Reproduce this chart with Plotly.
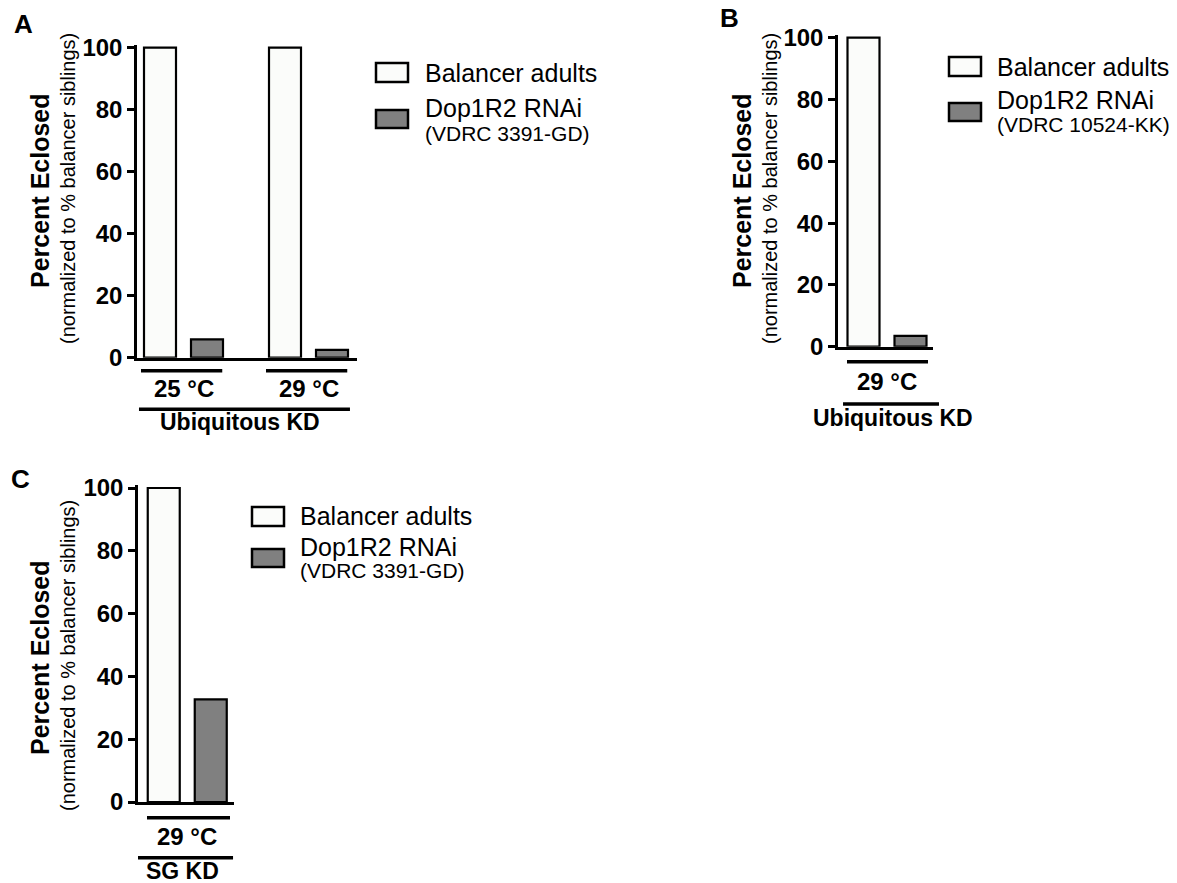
import plotly.graph_objects as go

# ---------------- data ----------------
groups_A = ["25 °C", "29 °C"]
balancer_A = [100, 100]
rnai_A = [5.9, 2.5]

groups_B = ["29 °C"]
balancer_B = [100]
rnai_B = [3.5]

groups_C = ["29 °C"]
balancer_C = [100]
rnai_C = [32.7]

y_ticks = [0, 20, 40, 60, 80, 100]
series_names = ["Balancer adults", "Dop1R2 RNAi"]
lines_A = ["(VDRC 3391-GD)"]
lines_B = ["(VDRC 10524-KK)"]
lines_C = ["(VDRC 3391-GD)"]
span_A = "Ubiquitous KD"
span_B = "Ubiquitous KD"
span_C = "SG KD"
letters = ["A", "B", "C"]
y_title = "Percent Eclosed"
y_subtitle = "(normalized to % balancer siblings)"

# ---------------- layout helpers ----------------
W, H = 1177, 883
FONT = "Arial, Liberation Sans, sans-serif"
WHITE = "#fbfcfa"
GRAY = "#808080"


def px(p):
    return p / W


def py(p):
    return 1 - p / H


TOP = 101.0


def ydom(p0, p100):
    per = (p0 - p100) / 100.0
    ptop = p0 - TOP * per
    return [py(p0), py(ptop)]


PPU = 125.0  # pixels per category unit
BW = 32 / PPU
SEP = 23.5 / PPU

panels = [
    dict(name="", groups=groups_A, bal=balancer_A, rnai=rnai_A, sub=lines_A[0], span=span_A,
         xdom=[px(137), px(357)], xr=[-0.372, 1.388], ydom=ydom(357.7, 47.7),
         gl=(-0.34, 0.31), gly=370.7, glab_y=388, sp=(0.009, 0.968), spy=409.3, splab=(0.466, 421.7),
         leg=dict(bx=376, b1=63, b2=110, tx=423, t1=73, t2=108, t3=133),
         title_y=191, tx1=40, tx2=68, letter=(23, 24)),
    dict(name="2", groups=groups_B, bal=balancer_B, rnai=rnai_B, sub=lines_B[0], span=span_B,
         xdom=[px(838), px(933)], xr=[-0.392, 0.368], ydom=ydom(346.7, 37.7),
         gl=(-0.32, 0.328), gly=361.7, glab_y=382, sp=(0.053, 1.063), spy=404, splab=(0.579, 418),
         leg=dict(bx=949, b1=57, b2=103, tx=995, t1=67, t2=100, t3=124),
         title_y=191, tx1=742, tx2=770, letter=(729, 18)),
    dict(name="3", groups=groups_C, bal=balancer_C, rnai=rnai_C, sub=lines_C[0], span=span_C,
         xdom=[px(138), px(234)], xr=[-0.394, 0.374], ydom=ydom(802, 488),
         gl=(-0.322, 0.342), gly=817.7, glab_y=836.7, sp=(0.0, 0.99), spy=857.7, splab=(0.464, 870.5),
         leg=dict(bx=252, b1=507, b2=549, tx=298, t1=516, t2=547, t3=570),
         title_y=658, tx1=40, tx2=68, letter=(20, 479)),
]

fig = go.Figure()
shapes = []
annotations = []
layout_axes = {}

for i, p in enumerate(panels):
    n = p["name"]
    xa = "x" + n
    ya = "y" + n
    fig.add_trace(go.Bar(
        x=p["groups"], y=p["bal"], xaxis=xa, yaxis=ya, name=series_names[0],
        width=BW, offset=-SEP - BW / 2,
        marker=dict(color=WHITE, line=dict(color="black", width=2.2)),
        showlegend=False, hoverinfo="skip"))
    fig.add_trace(go.Bar(
        x=p["groups"], y=p["rnai"], xaxis=xa, yaxis=ya, name=series_names[1],
        width=BW, offset=SEP - BW / 2,
        marker=dict(color=GRAY, line=dict(color="black", width=2.2)),
        showlegend=False, hoverinfo="skip"))

    layout_axes["xaxis" + n] = dict(
        domain=p["xdom"], anchor=ya, type="category", range=p["xr"], automargin=False,
        showline=True, linecolor="black", linewidth=2.5,
        showticklabels=False, ticks="", showgrid=False, zeroline=False, fixedrange=True)
    layout_axes["yaxis" + n] = dict(
        domain=p["ydom"], anchor=xa, range=[0, TOP], automargin=False,
        showline=True, linecolor="black", linewidth=2.5,
        tickvals=y_ticks, ticks="outside", ticklen=7, tickwidth=2.5, tickcolor="black",
        tickfont=dict(family=FONT, size=24, color="black", weight="bold"),
        showgrid=False, zeroline=False, fixedrange=True)

    # group underlines and labels
    for gi, g in enumerate(p["groups"]):
        shapes.append(dict(type="line", xref=xa, yref="paper",
                           x0=gi + p["gl"][0], x1=gi + p["gl"][1],
                           y0=py(p["gly"]), y1=py(p["gly"]),
                           line=dict(color="black", width=3.5)))
        annotations.append(dict(text=g, xref=xa, yref="paper", x=gi, y=py(p["glab_y"]),
                                xanchor="center", yanchor="middle", showarrow=False,
                                font=dict(family=FONT, size=24, color="black", weight="bold")))
    # spanning line and label
    shapes.append(dict(type="line", xref=xa + " domain", yref="paper",
                       x0=p["sp"][0], x1=p["sp"][1], y0=py(p["spy"]), y1=py(p["spy"]),
                       line=dict(color="black", width=3.5)))
    annotations.append(dict(text=p["span"], xref=xa + " domain", yref="paper",
                            x=p["splab"][0], y=py(p["splab"][1]),
                            xanchor="center", yanchor="middle", showarrow=False,
                            font=dict(family=FONT, size=23, color="black", weight="bold")))

    # y titles
    annotations.append(dict(text=y_title, xref="paper", yref="paper",
                            x=px(p["tx1"]), y=py(p["title_y"]), textangle=-90,
                            xanchor="center", yanchor="middle", showarrow=False,
                            font=dict(family=FONT, size=25, color="black", weight="bold")))
    annotations.append(dict(text=y_subtitle, xref="paper", yref="paper",
                            x=px(p["tx2"]), y=py(p["title_y"] - 2), textangle=-90,
                            xanchor="center", yanchor="middle", showarrow=False,
                            font=dict(family=FONT, size=20, color="black")))

    # panel letter
    annotations.append(dict(text=letters[i], xref="paper", yref="paper",
                            x=px(p["letter"][0]), y=py(p["letter"][1]),
                            xanchor="center", yanchor="middle", showarrow=False,
                            font=dict(family=FONT, size=26, color="black", weight="bold")))

    # manual legend
    L = p["leg"]
    shapes.append(dict(type="rect", xref="paper", yref="paper",
                       x0=px(L["bx"]), x1=px(L["bx"] + 32), y0=py(L["b1"]), y1=py(L["b1"] + 19),
                       fillcolor=WHITE, line=dict(color="black", width=2.5)))
    shapes.append(dict(type="rect", xref="paper", yref="paper",
                       x0=px(L["bx"]), x1=px(L["bx"] + 32), y0=py(L["b2"]), y1=py(L["b2"] + 18),
                       fillcolor=GRAY, line=dict(color="black", width=2.5)))
    annotations.append(dict(text=series_names[0], xref="paper", yref="paper",
                            x=px(L["tx"]), y=py(L["t1"]), xanchor="left", yanchor="middle",
                            showarrow=False, font=dict(family=FONT, size=25, color="black")))
    annotations.append(dict(text=series_names[1], xref="paper", yref="paper",
                            x=px(L["tx"]), y=py(L["t2"]), xanchor="left", yanchor="middle",
                            showarrow=False, font=dict(family=FONT, size=25, color="black")))
    annotations.append(dict(text=p["sub"], xref="paper", yref="paper",
                            x=px(L["tx"]), y=py(L["t3"]), xanchor="left", yanchor="middle",
                            showarrow=False, font=dict(family=FONT, size=21, color="black")))

fig.update_layout(
    template="none",
    width=W, height=H, autosize=False,
    margin=dict(l=0, r=0, t=0, b=0, pad=0, autoexpand=False),
    paper_bgcolor="white", plot_bgcolor="white",
    showlegend=False,
    barmode="overlay",
    shapes=shapes, annotations=annotations,
    font=dict(family=FONT, color="black"),
    **layout_axes,
)

fig.write_html(
    "out.html",
    config={"displayModeBar": False, "responsive": False},
    post_script="document.body.style.margin='0';document.body.style.overflow='hidden';",
)
